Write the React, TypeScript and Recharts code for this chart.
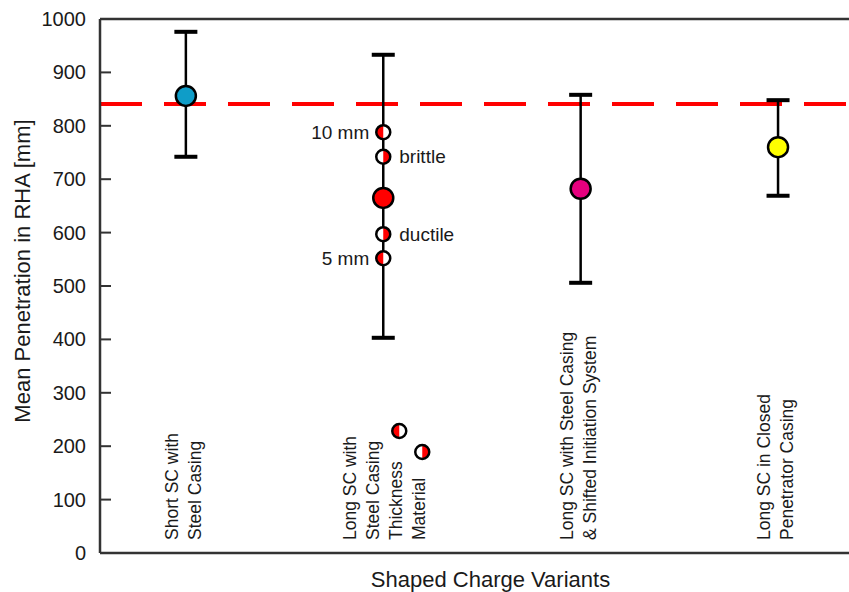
import { ComposedChart, Scatter, Line, XAxis, YAxis, ErrorBar, ReferenceLine } from 'recharts';

const categories = [
  ['Short SC with', 'Steel Casing'],
  ['Long SC with', 'Steel Casing', 'Thickness', 'Material'],
  ['Long SC with Steel Casing', '& Shifted Initiation System'],
  ['Long SC in Closed', 'Penetrator Casing'],
];
const positions = [1, 2, 3, 4];
const meanValues = [856, 665, 682, 760];
const upperValues = [976, 933, 858, 848];
const lowerValues = [742, 403, 506, 669];
const markerColors = ['#0f9dc8', '#ff0000', '#e6007e', '#ffff00'];
const referenceValue = 841;
const yTicks = [0, 100, 200, 300, 400, 500, 600, 700, 800, 900, 1000];
const xDomain = [0.565, 4.4];

const variantValues = [788, 742, 597, 552];
const variantLabels = ['10 mm', 'brittle', 'ductile', '5 mm'];
const variantKinds = ['thickness', 'material', 'material', 'thickness'];

const FONT = '"Liberation Sans", Arial, Helvetica, sans-serif';
const INK = '#1a1a1a';

const meanData = positions.map((x, i) => ({
  x,
  y: meanValues[i],
  err: [meanValues[i] - lowerValues[i], upperValues[i] - meanValues[i]],
  color: markerColors[i],
}));
const capData = positions.flatMap((x, i) => [
  { x, y: upperValues[i] },
  { x, y: lowerValues[i] },
]);
const variantData = variantValues.map((y, i) => ({
  x: positions[1],
  y,
  label: variantLabels[i],
  kind: variantKinds[i],
}));
const labelData = positions.map((x, i) => ({ x, y: 0, lines: categories[i] }));
const referenceData = xDomain.map((x) => ({ x, y: referenceValue }));

function HalfMarker({ cx, cy, r, kind }: { cx: number; cy: number; r: number; kind: string }) {
  const sweep = kind === 'thickness' ? 0 : 1;
  return (
    <g>
      <circle cx={cx} cy={cy} r={r} fill="#fff" />
      <path d={`M${cx},${cy - r} A${r},${r} 0 0 ${sweep} ${cx},${cy + r} Z`} fill="#ff0000" />
      <circle cx={cx} cy={cy} r={r} fill="none" stroke="#000" strokeWidth={2.5} />
    </g>
  );
}

const MeanShape = (props: any) => (
  <circle cx={props.cx} cy={props.cy} r={10} fill={props.payload.color} stroke="#000" strokeWidth={2.5} />
);

const CapShape = (props: any) => (
  <rect x={props.cx - 11.5} y={props.cy - 2} width={23} height={4} fill="#000" />
);

const VariantShape = (props: any) => {
  const { cx, cy, payload } = props;
  const left = payload.kind === 'thickness';
  return (
    <g>
      <HalfMarker cx={cx} cy={cy} r={7} kind={payload.kind} />
      <text
        x={left ? cx - 14 : cx + 16}
        y={cy}
        textAnchor={left ? 'end' : 'start'}
        dominantBaseline="central"
        fontFamily={FONT}
        fontSize={19}
        fill={INK}
      >
        {payload.label}
      </text>
    </g>
  );
};

const LabelShape = (props: any) => {
  const { cx, cy, payload } = props;
  const lines: string[] = payload.lines;
  const first = -14 - (lines.length - 2) * 9.5;
  const bottom = cy - 13;
  return (
    <g>
      {lines.map((line, i) => {
        const lx = cx + first + i * 23;
        return (
          <text
            key={i}
            x={lx}
            y={bottom}
            transform={`rotate(-90 ${lx} ${bottom})`}
            textAnchor="start"
            dominantBaseline="central"
            fontFamily={FONT}
            fontSize={17.5}
            fill={INK}
          >
            {line}
          </text>
        );
      })}
      {lines.length > 2 && (
        <>
          <HalfMarker cx={cx + 16} cy={cy - 122} r={7} kind="thickness" />
          <HalfMarker cx={cx + 39} cy={cy - 101} r={7} kind="material" />
        </>
      )}
    </g>
  );
};

const NoShape = () => <g />;

const YTick = (props: any) => {
  const { x, y, payload } = props;
  return (
    <g>
      <line x1={x} x2={x + 11} y1={y} y2={y} stroke="#333" strokeWidth={2} />
      <text x={x - 14} y={y} textAnchor="end" dominantBaseline="central" fontFamily={FONT} fontSize={20} fill={INK}>
        {payload.value}
      </text>
    </g>
  );
};

export default function App() {
  return (
    <div style={{ position: 'absolute', left: 0, top: 0, width: 849, height: 592, overflow: 'hidden', background: '#fff' }}>
      <ComposedChart width={870} height={592} margin={{ top: 19, right: 13, left: 0, bottom: 0 }}>
        <XAxis
          type="number"
          dataKey="x"
          domain={xDomain}
          allowDataOverflow
          tick={false}
          tickLine={false}
          height={39}
          axisLine={{ stroke: '#333', strokeWidth: 2.5 }}
          label={({ viewBox }: any) => (
            <text
              x={viewBox.x + viewBox.width / 2 + 12}
              y={viewBox.y + 26}
              textAnchor="middle"
              dominantBaseline="central"
              fontFamily={FONT}
              fontSize={22}
              fill={INK}
            >
              Shaped Charge Variants
            </text>
          )}
        />
        <YAxis
          type="number"
          dataKey="y"
          domain={[0, 1000]}
          ticks={yTicks}
          interval={0}
          width={100}
          tickSize={0}
          tickMargin={0}
          tickLine={false}
          tick={<YTick />}
          axisLine={{ stroke: '#333', strokeWidth: 2.5 }}
          label={({ viewBox }: any) => {
            const lx = viewBox.x + 22;
            const ly = viewBox.y + viewBox.height / 2 - 15;
            return (
              <text
                x={lx}
                y={ly}
                transform={`rotate(-90 ${lx} ${ly})`}
                textAnchor="middle"
                dominantBaseline="central"
                fontFamily={FONT}
                fontSize={22}
                fill={INK}
              >
                Mean Penetration in RHA [mm]
              </text>
            );
          }}
        />
        <ReferenceLine y={1000} stroke="#333" strokeWidth={2.5} />
        <Line
          data={referenceData}
          dataKey="y"
          stroke="#ff0000"
          strokeWidth={4}
          strokeDasharray="42 22"
          dot={false}
          activeDot={false}
          isAnimationActive={false}
        />
        <Scatter data={labelData} shape={LabelShape} isAnimationActive={false} />
        <Scatter data={meanData} shape={NoShape} isAnimationActive={false}>
          <ErrorBar dataKey="err" direction="y" width={0} stroke="#000" strokeWidth={2.5} />
        </Scatter>
        <Scatter data={capData} shape={CapShape} isAnimationActive={false} />
        <Scatter data={variantData} shape={VariantShape} isAnimationActive={false} />
        <Scatter data={meanData} shape={MeanShape} isAnimationActive={false} />
      </ComposedChart>
    </div>
  );
}
